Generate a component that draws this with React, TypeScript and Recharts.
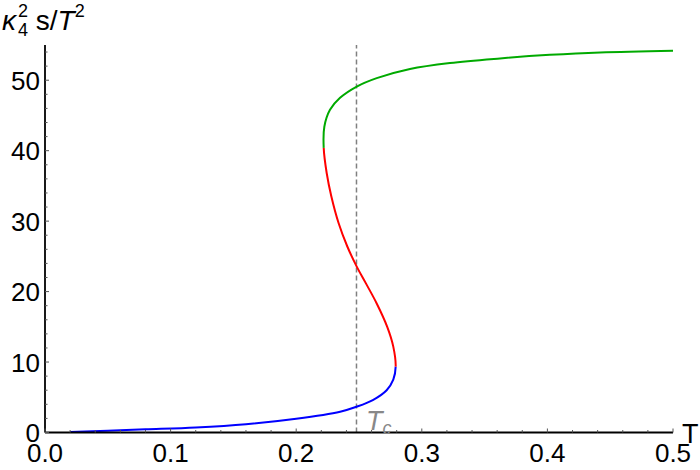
import { LineChart, Line, XAxis, YAxis, ReferenceLine } from "recharts";

// branch points: temperature T and kappa_4^2 s / T^2
const blueT = [0.02, 0.05, 0.08, 0.12, 0.16, 0.2, 0.235, 0.248, 0.261, 0.272, 0.2773, 0.2792];
const blueS = [0.08, 0.25, 0.45, 0.72, 1.18, 1.95, 2.95, 3.65, 4.6, 6.0, 7.5, 9.35];

const redT = [0.2792, 0.2773, 0.2724, 0.264, 0.2554, 0.2482, 0.2407, 0.2338, 0.228, 0.2243, 0.2219];
const redS = [9.35, 12.19, 15.03, 18.35, 21.2, 23.55, 26.4, 29.7, 33.5, 36.8, 40.4];

const greenT = [0.2219, 0.2224, 0.2269, 0.2349, 0.2482, 0.2641, 0.2906, 0.3224, 0.3623, 0.402, 0.442, 0.5];
const greenS = [40.4, 43.4, 45.8, 47.5, 49.1, 50.3, 51.6, 52.45, 53.1, 53.6, 53.95, 54.2];

const Tc = 0.248;

const xMajor = [0, 0.1, 0.2, 0.3, 0.4, 0.5];
const xLabels = ["0.0", "0.1", "0.2", "0.3", "0.4", "0.5"];
const yMajor = [0, 10, 20, 30, 40, 50];

const xTicks = Array.from({ length: 26 }, (_, i) => Math.round(i * 2) / 100);
const yTicks = Array.from({ length: 28 }, (_, i) => i * 2);

type Row = { T: number; s: number };
const toRows = (ts: number[], ss: number[]): Row[] => ts.map((t, i) => ({ T: t, s: ss[i] }));

const blueRows = toRows(blueT, blueS);
const redRows = toRows(redT, redS);
const greenRows = toRows(greenT, greenS);

// first and last rows only steer the curve (neighbours across the colour change)
const withGuides = (rows: Row[], before: Row, after: Row) => [before, ...rows, after];
const blueData = withGuides(blueRows, blueRows[0], redRows[1]);
const redData = withGuides(redRows, blueRows[blueRows.length - 2], greenRows[1]);
const greenData = withGuides(greenRows, redRows[redRows.length - 2], greenRows[greenRows.length - 1]);

// centripetal catmull-rom that skips the guide points at both ends
function innerCatmullRom(context: any) {
  let pts: number[][] = [];
  const A = 0.5;
  return {
    areaStart() {},
    areaEnd() {},
    lineStart() {
      pts = [];
    },
    point(x: number, y: number) {
      pts.push([x, y]);
    },
    lineEnd() {
      const n = pts.length;
      if (n < 3) return;
      context.moveTo(pts[1][0], pts[1][1]);
      for (let i = 1; i < n - 2; i++) {
        const p0 = pts[i - 1], p1 = pts[i], p2 = pts[i + 1], p3 = pts[i + 2];
        const d01 = Math.hypot(p1[0] - p0[0], p1[1] - p0[1]);
        const d12 = Math.hypot(p2[0] - p1[0], p2[1] - p1[1]);
        const d23 = Math.hypot(p3[0] - p2[0], p3[1] - p2[1]);
        const l01a = Math.pow(d01, A), l01b = Math.pow(d01, 2 * A);
        const l12a = Math.pow(d12, A), l12b = Math.pow(d12, 2 * A);
        const l23a = Math.pow(d23, A), l23b = Math.pow(d23, 2 * A);
        let c1x = p1[0], c1y = p1[1], c2x = p2[0], c2y = p2[1];
        if (l01a > 1e-9) {
          const a = 2 * l01b + 3 * l01a * l12a + l12b;
          const m = 3 * l01a * (l01a + l12a);
          c1x = (p1[0] * a - p0[0] * l12b + p2[0] * l01b) / m;
          c1y = (p1[1] * a - p0[1] * l12b + p2[1] * l01b) / m;
        }
        if (l23a > 1e-9) {
          const b = 2 * l23b + 3 * l23a * l12a + l12b;
          const m = 3 * l23a * (l23a + l12a);
          c2x = (p2[0] * b + p1[0] * l23b - p3[0] * l12b) / m;
          c2y = (p2[1] * b + p1[1] * l23b - p3[1] * l12b) / m;
        }
        context.bezierCurveTo(c1x, c1y, c2x, c2y, p2[0], p2[1]);
      }
    },
  };
}

const FONT = "'Liberation Sans', Arial, sans-serif";

function XTick(props: any) {
  const { x, y, payload } = props;
  const v = payload.value;
  const idx = xMajor.findIndex((m) => Math.abs(m - v) < 1e-6);
  const major = idx >= 0;
  return (
    <g>
      <line x1={x} x2={x} y1={y} y2={y - (major ? 4 : 2.5)} stroke="#555" strokeWidth={1} />
      {major && (
        <text x={x} y={y + 29} textAnchor="middle" fontSize={26} fontFamily={FONT} fill="#000">
          {xLabels[idx]}
        </text>
      )}
    </g>
  );
}

function YTick(props: any) {
  const { x, y, payload } = props;
  const v = payload.value;
  const major = yMajor.includes(v);
  return (
    <g>
      <line x1={x} x2={x + (major ? 4 : 2.5)} y1={y} y2={y} stroke="#555" strokeWidth={1} />
      {major && (
        <text x={x - 5} y={y + 9.5} textAnchor="end" fontSize={26} fontFamily={FONT} fill="#000">
          {v}
        </text>
      )}
    </g>
  );
}

export default function App() {
  return (
    <div style={{ position: "absolute", left: 0, top: 0, width: 700, height: 470, background: "#fff" }}>
      <LineChart width={700} height={470} margin={{ top: 45, right: 27, left: 0, bottom: 0 }}>
        <XAxis
          dataKey="T"
          type="number"
          domain={[0, 0.5]}
          ticks={xTicks}
          interval={0}
          height={37.5}
          tickSize={0}
          tickMargin={0}
          tickLine={false}
          tick={<XTick />}
          axisLine={{ stroke: "#000", strokeWidth: 2.2 }}
          allowDuplicatedCategory={false}
        />
        <YAxis
          type="number"
          domain={[0, 55]}
          ticks={yTicks}
          interval={0}
          width={45}
          tickSize={0}
          tickMargin={0}
          tickLine={false}
          tick={<YTick />}
          axisLine={{ stroke: "#000", strokeWidth: 1.8 }}
          allowDataOverflow
        />
        <ReferenceLine x={Tc} stroke="#808080" strokeDasharray="5 3" strokeWidth={1.5} />
        <Line data={blueData} dataKey="s" type={innerCatmullRom as any} stroke="#0000ff" strokeWidth={2} dot={false} isAnimationActive={false} />
        <Line data={redData} dataKey="s" type={innerCatmullRom as any} stroke="#ff0000" strokeWidth={2} dot={false} isAnimationActive={false} />
        <Line data={greenData} dataKey="s" type={innerCatmullRom as any} stroke="#00aa00" strokeWidth={2} dot={false} isAnimationActive={false} />
      </LineChart>
      <svg width={700} height={470} style={{ position: "absolute", left: 0, top: 0, pointerEvents: "none" }}>
        <text x={2} y={30} fontSize={28} fontFamily={FONT} fill="#000">
          <tspan fontStyle="italic">κ</tspan>
          <tspan fontSize={18} dx={2} dy={-13}>2</tspan>
          <tspan fontSize={18} dx={-10} dy={19}>4</tspan>
          <tspan dy={-6}> s/</tspan>
          <tspan fontStyle="italic">T</tspan>
          <tspan fontSize={18} dy={-13}>2</tspan>
        </text>
        <text x={682} y={443} fontSize={27} fontFamily={FONT} fill="#000">T</text>
        <text x={366} y={430} fontSize={27} fontFamily={FONT} fill="#888">
          <tspan fontStyle="italic">T</tspan>
          <tspan fontSize={18} fontStyle="italic" dy={4}>c</tspan>
        </text>
      </svg>
    </div>
  );
}
